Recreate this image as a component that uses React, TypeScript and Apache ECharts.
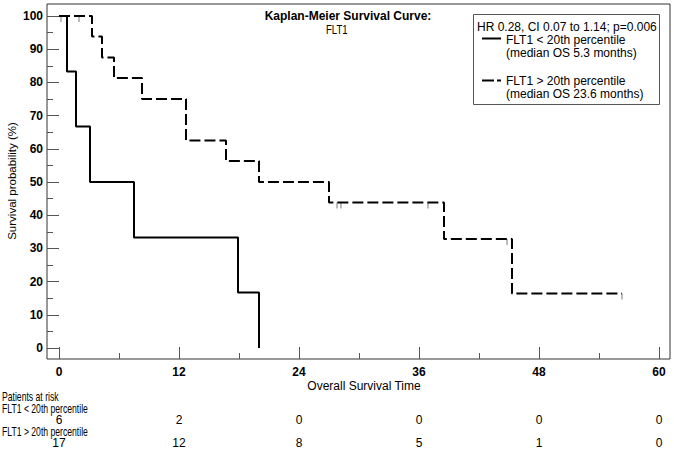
import React, { useEffect, useRef } from "react";
import * as echarts from "echarts";

// ---- data ----
const monthTicks = [0, 12, 24, 36, 48, 60];
const monthMinor = [6, 18, 30, 42, 54];
const survTicks = [0, 10, 20, 30, 40, 50, 60, 70, 80, 90, 100];
const survMinor = [5, 15, 25, 35, 45, 55, 65, 75, 85, 95];

const lowTimes = [0, 0.8, 1.7, 3.1, 7.5, 17.9, 20.0];
const lowSurv = [100, 83.3, 66.7, 50.0, 33.3, 16.7, 0];

const highTimes = [0, 3.3, 4.3, 5.5, 8.3, 12.7, 16.7, 20.0, 27.0, 38.5, 45.3, 56.3];
const highSurv = [100, 93.8, 87.5, 81.3, 75.0, 62.5, 56.3, 50.0, 43.8, 32.8, 16.4, 16.4];

const censorTimes = [0.2, 2.0, 27.8, 28.2, 36.9, 44.8, 56.3];
const censorSurv = [100, 100, 43.8, 43.8, 43.8, 32.8, 16.4];

const riskLow = [6, 2, 0, 0, 0, 0];
const riskHigh = [17, 12, 8, 5, 1, 0];

const groupLow = "FLT1 < 20th percentile";
const groupHigh = "FLT1 > 20th percentile";
const titleText = "Kaplan-Meier Survival Curve:";
const subtitleText = "FLT1";
const statText = "HR 0.28, CI 0.07 to 1.14; p=0.006";
const lowMedian = "(median OS 5.3 months)";
const highMedian = "(median OS 23.6 months)";

const FONT = '"Liberation Sans", Arial, Helvetica, sans-serif';

function txt(text: string, x: number, y: number, opts: any = {}) {
  const size = opts.size ?? 12;
  return {
    type: "text",
    x,
    y,
    silent: true,
    scaleX: opts.sx ?? 1,
    style: {
      text,
      fill: "#000",
      fontSize: size,
      fontFamily: FONT,
      fontWeight: opts.weight ?? "normal",
      align: opts.align ?? "left",
      verticalAlign: "middle",
      textAlign: opts.align ?? "left",
      textVerticalAlign: "middle",
      lineHeight: opts.lh ?? 12,
    },
    rotation: opts.rotation ?? 0,
  };
}

export default function App() {
  const ref = useRef<HTMLDivElement>(null);
  useEffect(() => {
    if (!ref.current) return;
    const chart = echarts.init(ref.current, null, { renderer: "svg" });
    const tickColor = "#555";
    const labelFont = { fontFamily: FONT, fontSize: 12, fontWeight: "bold", color: "#000" };
    chart.setOption({
      animation: false,
      grid: { left: 47, right: 4, top: 4, bottom: 100, show: true, borderColor: "#333", borderWidth: 1, backgroundColor: "transparent" },
      xAxis: [
        {
          type: "value", min: -1.2, max: 61.1, position: "bottom",
          axisLine: { show: false, onZero: false },
          axisTick: { show: true, inside: true, length: 12, customValues: monthTicks, lineStyle: { color: tickColor, width: 1 } },
          axisLabel: { show: true, customValues: monthTicks, margin: 7, ...labelFont },
          splitLine: { show: false },
        },
        {
          type: "value", min: -1.2, max: 61.1, position: "bottom", offset: 0,
          axisLine: { show: false, onZero: false },
          axisTick: { show: true, inside: true, length: 6, customValues: monthMinor, lineStyle: { color: tickColor, width: 1 } },
          axisLabel: { show: false },
          splitLine: { show: false },
        },
      ],
      yAxis: [
        {
          type: "value", min: -3.3, max: 103.6, position: "left",
          axisLine: { show: false, onZero: false },
          axisTick: { show: true, inside: true, length: 12, customValues: survTicks, lineStyle: { color: tickColor, width: 1 } },
          axisLabel: { show: true, customValues: survTicks, margin: 4, ...labelFont },
          splitLine: { show: false },
        },
        {
          type: "value", min: -3.3, max: 103.6, position: "left", offset: 0,
          axisLine: { show: false, onZero: false },
          axisTick: { show: true, inside: true, length: 6, customValues: survMinor, lineStyle: { color: tickColor, width: 1 } },
          axisLabel: { show: false },
          splitLine: { show: false },
        },
      ],
      series: [
        {
          type: "line", name: groupLow, step: "end", xAxisIndex: 0, yAxisIndex: 0,
          data: lowTimes.map((t, i) => [t, lowSurv[i]]),
          symbol: "none", lineStyle: { color: "#000", width: 2 },
        },
        {
          type: "line", name: groupHigh, step: "end", xAxisIndex: 0, yAxisIndex: 0,
          data: highTimes.map((t, i) => [t, highSurv[i]]),
          symbol: "none", lineStyle: { color: "#000", width: 2, type: [11, 4] },
        },
        {
          type: "scatter", name: "censored", xAxisIndex: 0, yAxisIndex: 0,
          data: censorTimes.map((t, i) => [t, censorSurv[i]]),
          symbol: "rect", symbolSize: [1, 6], symbolOffset: [0, 3],
          itemStyle: { color: "#555" },
        },
      ],
    });

    const px = (t: number) => chart.convertToPixel({ xAxisIndex: 0 }, t) as number;
    const narrow = { size: 12, sx: 0.72, lh: 11 };
    const num = { size: 12, lh: 11, align: "center" };
    const graphics: any[] = [
      txt(titleText, 348, 16, { weight: "bold", align: "center" }),
      txt(subtitleText, 326, 30, { sx: 0.8 }),
      { type: "rect", shape: { x: 473.5, y: 14.5, width: 186, height: 90 }, style: { fill: "#fff", stroke: "#555", lineWidth: 1 }, silent: true },
      txt(statText, 477, 27),
      { type: "line", shape: { x1: 482, y1: 38.5, x2: 501, y2: 38.5 }, style: { stroke: "#000", lineWidth: 2 }, silent: true },
      txt(groupLow, 506, 39.5),
      txt(lowMedian, 506, 53),
      { type: "line", shape: { x1: 482, y1: 80.5, x2: 494, y2: 80.5 }, style: { stroke: "#000", lineWidth: 2 }, silent: true },
      { type: "line", shape: { x1: 497, y1: 80.5, x2: 501, y2: 80.5 }, style: { stroke: "#000", lineWidth: 2 }, silent: true },
      txt(groupHigh, 506, 81),
      txt(highMedian, 506, 94),
      txt("Survival probability (%)", 12, 181, { size: 11.5, align: "center", rotation: Math.PI / 2 }),
      txt("Overall Survival Time", 364, 386, { size: 12, lh: 11, align: "center" }),
      txt("Patients at risk", 2, 397, narrow),
      txt(groupLow, 2, 408.5, narrow),
      txt(groupHigh, 2, 431.5, narrow),
    ];
    monthTicks.forEach((m, i) => {
      graphics.push(txt(String(riskLow[i]), px(m), 420, num));
      graphics.push(txt(String(riskHigh[i]), px(m), 443, num));
    });
    chart.setOption({ graphic: { elements: graphics } });

    return () => chart.dispose();
  }, []);
  return <div ref={ref} style={{ position: "fixed", left: 0, top: 0, width: 674, height: 459, background: "#fff" }} />;
}
